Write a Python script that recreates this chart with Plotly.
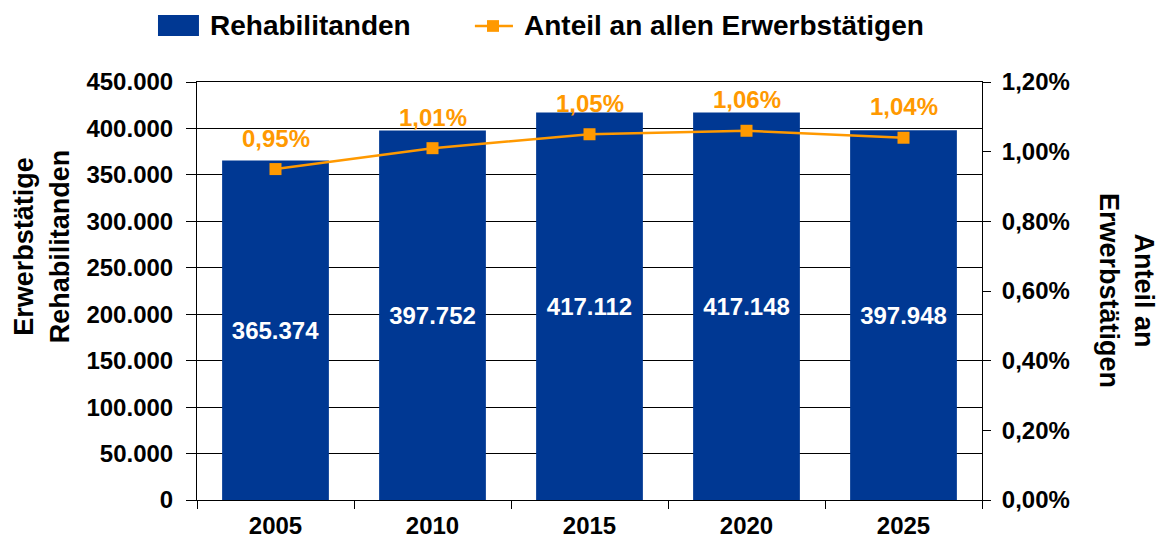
import plotly.graph_objects as go

years = ["2005", "2010", "2015", "2020", "2025"]
rehabilitanden = [365374, 397752, 417112, 417148, 397948]
anteil = [0.0095, 0.0101, 0.0105, 0.0106, 0.0104]

bar_color = "#003893"
line_color = "#FF9900"
font_family = "Liberation Sans, Arial, sans-serif"

fig = go.Figure()

fig.add_trace(
    go.Bar(
        x=years,
        y=rehabilitanden,
        name="Rehabilitanden",
        marker=dict(color=bar_color, line=dict(width=0)),
        width=0.68,
        texttemplate="%{y:,.0f}",
        textposition="inside",
        insidetextanchor="middle",
        textfont=dict(family=font_family, size=24, color="white", weight="bold"),
        showlegend=False,
    )
)

fig.add_trace(
    go.Scatter(
        x=years,
        y=anteil,
        name="Anteil an allen Erwerbstätigen",
        mode="lines+markers",
        line=dict(color=line_color, width=2.5),
        marker=dict(symbol="square", size=12, color=line_color),
        yaxis="y2",
        showlegend=False,
    )
)

# percentage labels above the markers
for i, val in enumerate(anteil):
    fig.add_annotation(
        x=i,
        y=val,
        yref="y2",
        text=f"{val * 100:.2f}%".replace(".", ","),
        showarrow=False,
        yshift=31,
        font=dict(family=font_family, size=24, color=line_color, weight="bold"),
    )

# axis titles
fig.add_annotation(
    x=-0.197, y=0.608, xref="paper", yref="paper",
    xanchor="center", yanchor="middle",
    text="Erwerbstätige<br>Rehabilitanden",
    textangle=-90, showarrow=False,
    font=dict(family=font_family, size=27, color="black", weight="bold"),
)
fig.add_annotation(
    x=1.185, y=0.502, xref="paper", yref="paper",
    xanchor="center", yanchor="middle",
    text="Anteil an<br>Erwerbstätigen",
    textangle=90, showarrow=False,
    font=dict(family=font_family, size=27, color="black", weight="bold"),
)

# legend drawn by hand (bar swatch + line with square marker)
legend_font = dict(family=font_family, size=28, color="black", weight="bold")
fig.add_shape(type="rect", xref="paper", yref="paper",
              x0=-0.0497, x1=0.0025, y0=1.110, y1=1.160,
              fillcolor=bar_color, line=dict(width=0))
fig.add_annotation(x=0.014, y=1.135, xref="paper", yref="paper",
                   xanchor="left", yanchor="middle", showarrow=False,
                   text="Rehabilitanden", font=legend_font)
fig.add_shape(type="line", xref="paper", yref="paper",
              x0=0.354, x1=0.4025, y0=1.134, y1=1.134,
              line=dict(color=line_color, width=2.5))
fig.add_shape(type="rect", xref="paper", yref="paper",
              x0=0.3694, x1=0.3847, y0=1.120, y1=1.148,
              fillcolor=line_color, line=dict(width=0))
fig.add_annotation(x=0.414, y=1.135, xref="paper", yref="paper",
                   xanchor="left", yanchor="middle", showarrow=False,
                   text="Anteil an allen Erwerbstätigen", font=legend_font)

fig.update_layout(
    width=1164,
    height=549,
    margin=dict(l=189, r=190, t=74, b=57, autoexpand=False),
    paper_bgcolor="white",
    plot_bgcolor="white",
    separators=",.",
    font=dict(family=font_family, size=24, color="black", weight="bold"),
    showlegend=False,
    xaxis=dict(
        type="category",
        range=[-0.5, 4.5],
        showline=True,
        linecolor="black",
        linewidth=1,
        mirror=True,
        ticks="outside",
        tickson="boundaries",
        ticklen=8,
        tickcolor="black",
        showgrid=False,
        tickfont=dict(size=24),
        ticklabelstandoff=4,
        automargin=False,
    ),
    yaxis=dict(
        range=[0, 450000],
        dtick=50000,
        tickformat=",.0f",
        showline=True,
        linecolor="black",
        linewidth=1,
        mirror=True,
        ticks="outside",
        ticklen=10,
        tickcolor="black",
        showgrid=True,
        gridcolor="black",
        gridwidth=1,
        zeroline=False,
        tickfont=dict(size=24),
        ticklabelstandoff=8,
        automargin=False,
    ),
    yaxis2=dict(
        range=[0, 0.012],
        dtick=0.002,
        tickformat=".2%",
        overlaying="y",
        side="right",
        showline=False,
        ticks="outside",
        ticklen=8,
        tickcolor="black",
        showgrid=False,
        zeroline=False,
        tickfont=dict(size=24),
        ticklabelstandoff=6,
        automargin=False,
    ),
)

fig.write_html("out.html")
